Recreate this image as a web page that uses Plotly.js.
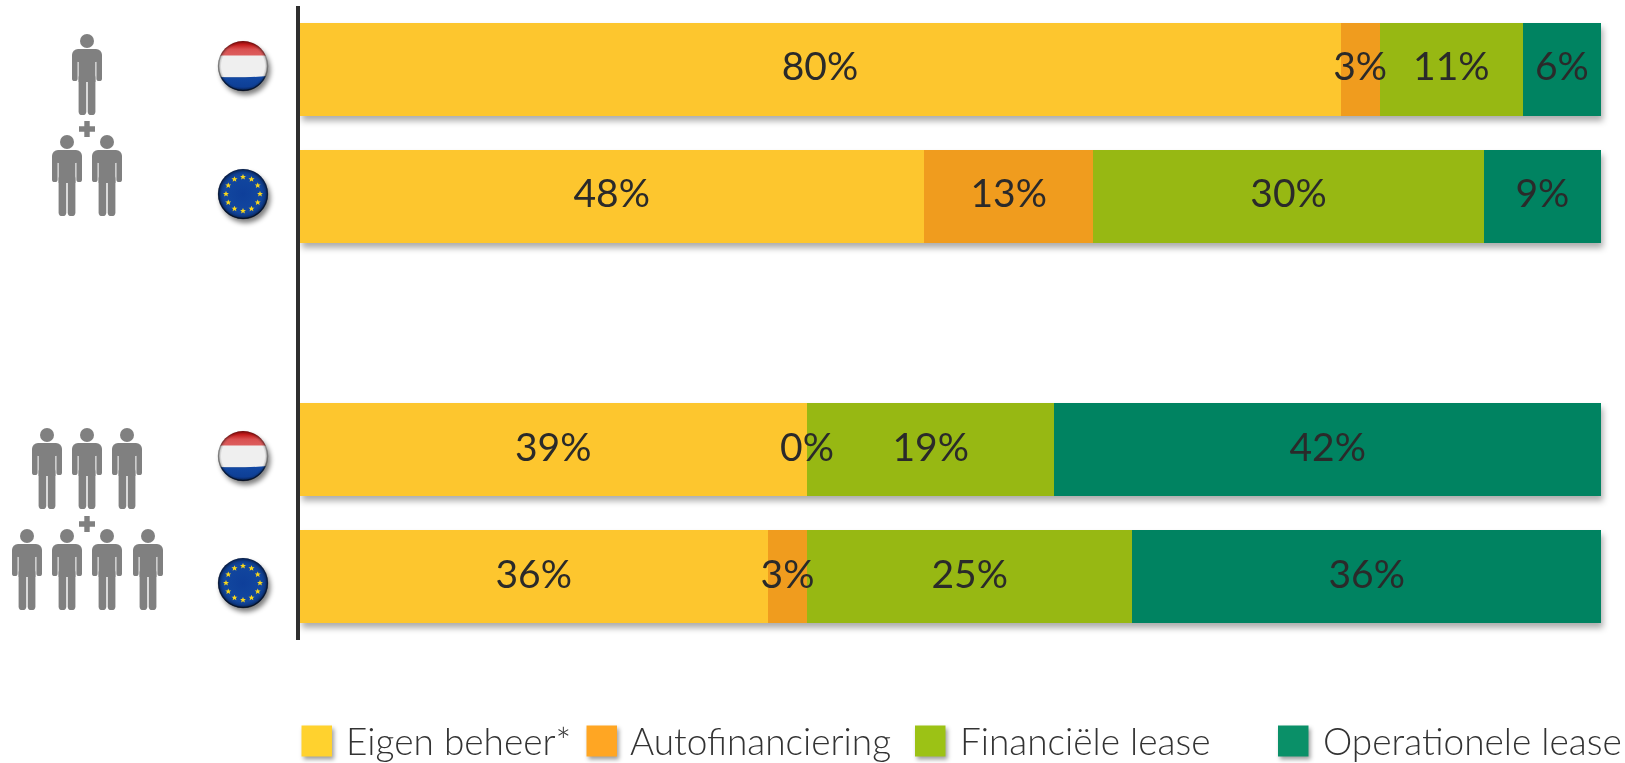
<!DOCTYPE html>
<html><head><meta charset="utf-8">
<script src="https://cdn.plot.ly/plotly-3.0.0.min.js"></script>
<style>html,body{margin:0;padding:0;background:#fff}#c{width:1625px;height:763px}
.barlayer{filter:drop-shadow(2px 5px 3px rgba(0,0,0,.32))}
.shapelayer{filter:drop-shadow(2px 3px 2px rgba(0,0,0,.38))}
</style></head><body><div id="c"></div>
<script>
const rows = [0, 1, 3, 4];
const seriesNames = ['Eigen beheer*', 'Autofinanciering', 'Financiële lease', 'Operationele lease'];
const eigenBeheer = [80, 48, 39, 36];
const autofinanciering = [3, 13, 0, 3];
const financieleLease = [11, 30, 19, 25];
const operationeleLease = [6, 9, 42, 36];
const seriesValues = [eigenBeheer, autofinanciering, financieleLease, operationeleLease];
const barColors = ['#FDC62E', '#F09C1E', '#97B813', '#008361'];
const keyColors = ['#FFD22E', '#FFA623', '#9CC215', '#0A9068'];
const keyX = [301.5, 586.5, 915, 1278];
const keyTextX = [347, 631, 961, 1323.5];

const W = 1625, H = 763, L = 300, T = 6, PW = 1301, PH = 634;
const px = x => (x - L) / PW, py = y => 1 - (y - T) / PH;
const FONT = 'Lato, "Noto Sans", sans-serif';
const labelNudge = 0.01;

const traces = seriesValues.map((vals, i) => ({
  type: 'bar', orientation: 'h', name: seriesNames[i], x: vals, y: rows,
  marker: {color: barColors[i], line: {width: 0}}, cliponaxis: false, hoverinfo: 'x+name'
}));
// labels are centred on each segment, including the empty 0% one
seriesValues.forEach((vals, i) => {
  traces.push({
    type: 'scatter', mode: 'text', showlegend: false, hoverinfo: 'skip', cliponaxis: false,
    x: vals.map((v, r) => seriesValues.slice(0, i).reduce((s, a) => s + a[r], 0) + v / 2),
    y: rows.map(r => r + labelNudge), text: vals.map(v => v + '%'), textposition: 'middle center',
    textfont: {family: FONT, size: 39, color: '#2a2a2a'}
  });
});

function person(cx, top) {
  return `<g transform="translate(${cx},${top})" fill="#808080">
  <circle cx="0" cy="7" r="7"/>
  <rect x="-15" y="15" width="30" height="13" rx="6"/>
  <rect x="-15" y="20" width="5.6" height="27" rx="2.6"/>
  <rect x="9.4" y="20" width="5.6" height="27" rx="2.6"/>
  <rect x="-8.4" y="15" width="16.8" height="33"/>
  <rect x="-8.4" y="40" width="7.7" height="41" rx="3.6"/>
  <rect x="0.7" y="40" width="7.7" height="41" rx="3.6"/></g>`;
}
function plus(cx, cy) {
  return `<path fill="#808080" d="M${cx-8},${cy-2.7}h5.3v-5.3h5.4v5.3h5.3v5.4h-5.3v5.3h-5.4v-5.3h-5.3z"/>`;
}
function flagBase(cy, inner) {
  return `<g transform="translate(243,${cy})"><circle cx="2.5" cy="4" r="25" fill="#000" opacity=".5" filter="url(#b)"/>
  <g clip-path="url(#cc)">${inner}</g>
  <circle r="25" fill="url(#gl)"/>
  <circle r="24.5" fill="none" stroke="url(#rim)" stroke-width="1.5"/></g>`;
}
function nl(cy) {
  return flagBase(cy, `<rect x="-25" y="-25" width="50" height="15" fill="url(#red)"/>
  <rect x="-25" y="-10.5" width="50" height="22" fill="#efefef"/>
  <path d="M-25,11Q0,12 25,10V25H-25Z" fill="url(#blue)"/>`);
}
function eu(cy) {
  let s = '<rect x="-25" y="-25" width="50" height="50" fill="url(#euBlue)"/>';
  for (let k = 0; k < 12; k++) {
    const a = k * Math.PI / 6;
    s += `<path transform="translate(${(17 * Math.sin(a)).toFixed(2)},${(-17 * Math.cos(a)).toFixed(2)}) scale(3)"
      fill="#f9d71c" d="M0,-1L.29,-.31L1,-.31L.45,.12L.62,.81L0,.42L-.62,.81L-.45,.12L-1,-.31L-.29,-.31Z"/>`;
  }
  return flagBase(cy, s);
}
const overlay = `<svg xmlns="http://www.w3.org/2000/svg" width="296" height="763" viewBox="0 0 296 763">
<defs><clipPath id="cc"><circle r="25"/></clipPath>
<filter id="b" x="-30%" y="-30%" width="160%" height="160%"><feGaussianBlur stdDeviation="2.5"/></filter>
<linearGradient id="red" x1="0" y1="0" x2="0" y2="1"><stop offset="0" stop-color="#b00d0d"/><stop offset=".25" stop-color="#c41c1c"/><stop offset=".55" stop-color="#d95050"/><stop offset="1" stop-color="#dc5f5f"/></linearGradient>
<linearGradient id="blue" x1="0" y1="0" x2="0" y2="1"><stop offset="0" stop-color="#1249a5"/><stop offset=".7" stop-color="#0e3f96"/><stop offset="1" stop-color="#0a2a68"/></linearGradient>
<radialGradient id="euBlue" cx=".5" cy=".5" r=".5"><stop offset="0" stop-color="#0e3f9a"/><stop offset=".75" stop-color="#12479f"/><stop offset="1" stop-color="#0b2f72"/></radialGradient>
<linearGradient id="rim" x1="0" y1="0" x2="0" y2="1"><stop offset="0" stop-color="#000" stop-opacity=".1"/><stop offset="1" stop-color="#000" stop-opacity=".55"/></linearGradient>
<radialGradient id="gl" cx=".5" cy=".5" r=".5"><stop offset=".86" stop-color="#000" stop-opacity="0"/><stop offset="1" stop-color="#000" stop-opacity=".3"/></radialGradient>
</defs>
${person(87,34)}${plus(87,129)}${person(67,135)}${person(107,135)}
${person(47,428)}${person(87,428)}${person(127,428)}${plus(87,524)}
${person(27,529)}${person(67,529)}${person(107,529)}${person(148,529)}
${nl(66)}${eu(194)}${nl(456)}${eu(583)}
</svg>`;

const layout = {
  width: W, height: H, autosize: false, barmode: 'stack', bargap: 0.267, showlegend: false,
  paper_bgcolor: '#fff', plot_bgcolor: 'rgba(0,0,0,0)',
  margin: {l: L, t: T, r: W - L - PW, b: H - T - PH, pad: 0},
  font: {family: FONT, color: '#2a2a2a'},
  xaxis: {range: [0.05, 100], visible: false, fixedrange: true},
  yaxis: {range: [4.5, -0.5], tickmode: 'array', tickvals: rows, ticktext: rows.map(() => ''),
    showgrid: false, zeroline: false, showline: true, linecolor: '#2e2e2e', linewidth: 4, ticks: '', fixedrange: true},
  images: [{source: 'data:image/svg+xml;charset=utf-8,' + encodeURIComponent(overlay),
    xref: 'paper', yref: 'paper', x: px(0), y: py(0), sizex: 296 / PW, sizey: H / PH,
    xanchor: 'left', yanchor: 'top', sizing: 'stretch', layer: 'above'}],
  shapes: seriesNames.map((n, i) => ({type: 'rect', xref: 'paper', yref: 'paper',
    x0: px(keyX[i]), x1: px(keyX[i] + 30.5), y0: py(725.5), y1: py(756.5),
    fillcolor: keyColors[i], line: {width: 0}})),
  annotations: seriesNames.map((n, i) => ({xref: 'paper', yref: 'paper', x: px(keyTextX[i]), y: py(741),
    text: n, showarrow: false, xanchor: 'left', yanchor: 'middle', xshift: -3,
    font: {family: FONT, size: 37, weight: 300, color: '#333333'}}))
};
Plotly.newPlot('c', traces, layout, {displayModeBar: false, staticPlot: true});
</script></body></html>
